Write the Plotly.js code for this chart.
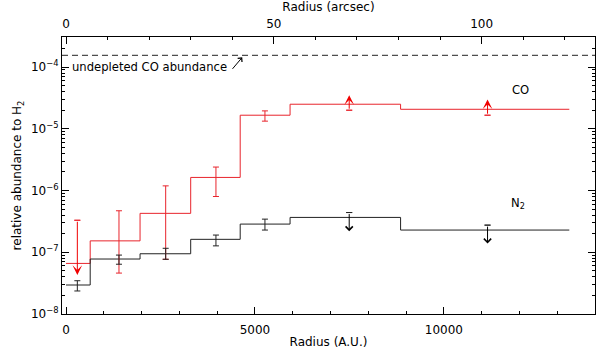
<!DOCTYPE html>
<html>
<head>
<meta charset="utf-8">
<script src="https://cdn.plot.ly/plotly-3.0.1.min.js"></script>
<style>
  html, body { margin: 0; padding: 0; background: #fff; }
  #chart { width: 600px; height: 349px; }
</style>
</head>
<body>
<div id="chart"></div>
<script>
// bin edges (A.U.) and step values per bin
const binEdges = [0, 640, 1960, 3300, 4610, 5930, 8855, 13320];
const coSteps = [6.6e-8, 1.53e-7, 4.27e-7, 1.63e-6, 1.66e-5, 2.5e-5, 2.07e-5];
const n2Steps = [2.95e-8, 7.77e-8, 9.46e-8, 1.62e-7, 2.86e-7, 3.67e-7, 2.29e-7];

// error bar positions (A.U.)
const barX = [300, 1402, 2638, 3968, 5265, 7495, 11156];

// CO: two-sided bars (index, upper, lower)
const coBarIdx = [1, 2, 3, 4];
const coUpper = [4.7e-7, 1.19e-6, 2.4e-6, 1.95e-5];
const coLower = [4.6e-8, 7.7e-8, 8.0e-7, 1.33e-5];
// CO limits: cap value, arrow tip value
const coLimIdx = [0, 5, 6];
const coLimCap = [3.3e-7, 2.0e-5, 1.66e-5];
const coLimTip = [4.3e-8, 3.5e-5, 2.98e-5];

// N2
const n2BarIdx = [0, 1, 2, 3, 4];
const n2Upper = [3.46e-8, 9.0e-8, 1.16e-7, 1.9e-7, 3.44e-7];
const n2Lower = [2.36e-8, 6.4e-8, 7.7e-8, 1.27e-7, 2.29e-7];
const n2LimIdx = [5, 6];
const n2LimCap = [4.4e-7, 2.75e-7];
const n2LimTip = [2.2e-7, 1.39e-7];

const undepletedCO = 1.55e-4;
const auPerArcsec = 110;

const xTickVals = [0, 5000, 10000];
const xTickText = ["0", "5000", "10000"];
const topTickVals = [0, 50, 100];

const xRange = [-106, 14000];
const yRange = [-8, -3.513];

const RED = "#e8242c";
const RED_ARROW = "#f00000";
const BLACK = "#222222";
const FONT = "DejaVu Sans";

/* ---------- helpers ---------- */

function stepTrace(values, color) {
  return {
    x: binEdges,
    y: values.concat([values[values.length - 1]]),
    mode: "lines",
    line: { shape: "hv", color: color, width: 1 },
    hoverinfo: "skip",
  };
}

function barTrace(idx, steps, upper, lower, color) {
  const y = idx.map((i) => steps[i]);
  return {
    x: idx.map((i) => barX[i]),
    y: y,
    mode: "markers",
    marker: { size: 1, opacity: 0 },
    error_y: {
      type: "data",
      symmetric: false,
      array: upper.map((u, k) => u - y[k]),
      arrayminus: lower.map((l, k) => y[k] - l),
      color: color,
      thickness: 1,
      width: 3,
    },
    hoverinfo: "skip",
  };
}

function capTrace(idx, caps, color) {
  return {
    x: idx.map((i) => barX[i]),
    y: caps,
    mode: "markers",
    marker: { size: 1, opacity: 0 },
    error_y: {
      type: "data",
      array: caps.map(() => 0),
      color: color,
      thickness: 1,
      width: 3,
    },
    hoverinfo: "skip",
  };
}

function limitArrows(idx, caps, tips, color, head, size) {
  return idx.map((i, k) => ({
    x: barX[i],
    y: Math.log10(tips[k]),
    ax: barX[i],
    ay: Math.log10(caps[k]),
    xref: "x",
    yref: "y",
    axref: "x",
    ayref: "y",
    text: "",
    showarrow: true,
    arrowhead: head,
    arrowsize: size,
    arrowwidth: 1,
    arrowcolor: color,
    standoff: 0,
    startstandoff: 0,
  }));
}

/* ---------- traces ---------- */

const traces = [
  {
    x: xRange,
    y: [undepletedCO, undepletedCO],
    mode: "lines",
    line: { color: BLACK, width: 1, dash: "6px,4px" },
    hoverinfo: "skip",
  },
  stepTrace(coSteps, RED),
  stepTrace(n2Steps, BLACK),
  barTrace(coBarIdx, coSteps, coUpper, coLower, RED),
  barTrace(n2BarIdx, n2Steps, n2Upper, n2Lower, BLACK),
  capTrace(coLimIdx, coLimCap, RED),
  capTrace(n2LimIdx, n2LimCap, BLACK),
  // keep the arcsec axis and the right-hand tick axis alive
  { x: [0], y: [1e-6], xaxis: "x2", mode: "markers", marker: { opacity: 0 }, hoverinfo: "skip" },
  { x: [0], y: [1e-6], yaxis: "y2", mode: "markers", marker: { opacity: 0 }, hoverinfo: "skip" },
];

/* ---------- layout ---------- */

const decades = [-8, -7, -6, -5, -4];
const minorVals = [];
decades.forEach((d) => {
  for (let m = 2; m <= 9; m++) minorVals.push(m * Math.pow(10, d));
});

const annotations = [
  {
    x: 114, y: Math.log10(1.0e-4),
    xref: "x", yref: "y",
    text: "undepleted CO abundance",
    showarrow: false,
    xanchor: "left", yanchor: "middle",
    font: { family: FONT, size: 11.6, color: "#000" },
  },
  {
    x: 4664, y: -3.843,
    ax: 4373, ay: -4.053,
    xref: "x", yref: "y", axref: "x", ayref: "y",
    text: "",
    showarrow: true,
    arrowhead: 4,
    arrowsize: 1.1,
    arrowwidth: 1,
    arrowcolor: "#000",
    standoff: 0,
  },
  {
    x: 12018, y: -4.375,
    xref: "x", yref: "y",
    text: "CO",
    showarrow: false,
    font: { family: FONT, size: 11.6, color: "#000" },
  },
  {
    x: 11960, y: -6.204,
    xref: "x", yref: "y",
    text: "N<sub>2</sub>",
    showarrow: false,
    font: { family: FONT, size: 11.6, color: "#000" },
  },
]
  .concat(limitArrows(coLimIdx, coLimCap, coLimTip, RED_ARROW, 3, 1.6))
  .concat(limitArrows(n2LimIdx, n2LimCap, n2LimTip, "#000", 4, 1.4));

const yMinor = { tickmode: "array", tickvals: minorVals, ticks: "inside", ticklen: 3, tickcolor: "#000", showgrid: false };

const layout = {
  width: 600,
  height: 349,
  margin: { l: 62, r: 5, t: 37, b: 35 },
  paper_bgcolor: "#fff",
  plot_bgcolor: "#fff",
  showlegend: false,
  font: { family: FONT, size: 12, color: "#000" },
  xaxis: {
    range: xRange,
    tickmode: "array",
    tickvals: xTickVals,
    ticktext: xTickText,
    ticks: "inside",
    ticklen: 7,
    tickcolor: "#000",
    ticklabelstandoff: 5,
    showline: true,
    linecolor: "#000",
    linewidth: 1,
    mirror: true,
    showgrid: false,
    zeroline: false,
    tickfont: { family: FONT, size: 12 },
    minor: { tickmode: "linear", tick0: 0, dtick: 1000, ticks: "inside", ticklen: 3, tickcolor: "#000", showgrid: false },
    title: { text: "Radius (A.U.)", font: { family: FONT, size: 12 }, standoff: 6 },
  },
  xaxis2: {
    overlaying: "x",
    side: "top",
    anchor: "y",
    range: xRange.map((v) => v / auPerArcsec),
    tickmode: "array",
    tickvals: topTickVals,
    ticks: "inside",
    ticklen: 7,
    tickcolor: "#000",
    ticklabelstandoff: 6,
    showline: false,
    showgrid: false,
    zeroline: false,
    tickfont: { family: FONT, size: 12 },
    minor: { tickmode: "linear", tick0: 0, dtick: 10, ticks: "inside", ticklen: 3, tickcolor: "#000", showgrid: false },
    title: { text: "Radius (arcsec)", font: { family: FONT, size: 12 }, standoff: 2 },
  },
  yaxis: {
    type: "log",
    range: yRange,
    tickmode: "array",
    tickvals: decades.map((d) => Math.pow(10, d)),
    ticktext: decades.map((d) => "10<sup>\u2212" + Math.abs(d) + "</sup>"),
    ticks: "inside",
    ticklen: 7,
    tickcolor: "#000",
    showline: true,
    linecolor: "#000",
    linewidth: 1,
    mirror: true,
    showgrid: false,
    zeroline: false,
    tickfont: { family: FONT, size: 12 },
    minor: yMinor,
    title: { text: "relative abundance to H<sub>2</sub>", font: { family: FONT, size: 12 }, standoff: 6 },
  },
  yaxis2: {
    type: "log",
    overlaying: "y",
    side: "right",
    anchor: "x",
    range: yRange,
    tickmode: "array",
    tickvals: decades.map((d) => Math.pow(10, d)),
    showticklabels: false,
    ticks: "inside",
    ticklen: 7,
    tickcolor: "#000",
    showline: false,
    showgrid: false,
    zeroline: false,
    minor: yMinor,
  },
  annotations: annotations,
};

Plotly.newPlot("chart", traces, layout, { displayModeBar: false, staticPlot: true });
</script>
</body>
</html>
